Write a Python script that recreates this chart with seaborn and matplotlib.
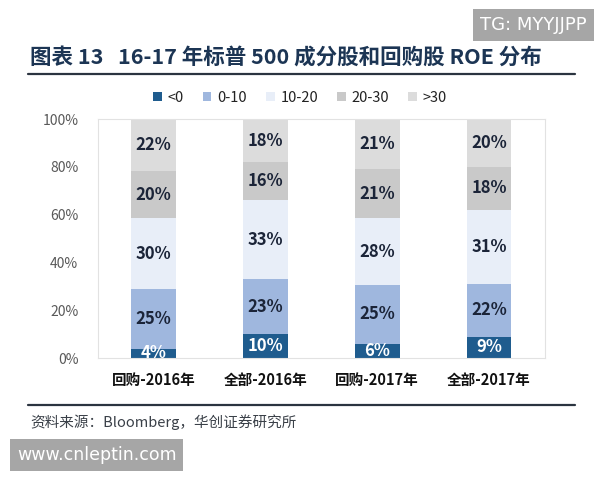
import numpy as np
import pandas as pd
import seaborn as sns
import matplotlib.pyplot as plt
from matplotlib.patches import Patch

# 数据
categories = ['回购-2016年', '全部-2016年', '回购-2017年', '全部-2017年']
groups = ['<0', '0-10', '10-20', '20-30', '>30']
v_lt0 = [4, 10, 6, 9]
v_0_10 = [25, 23, 25, 22]
v_10_20 = [30, 33, 28, 31]
v_20_30 = [20, 16, 21, 18]
v_gt30 = [22, 18, 21, 20]
colors = ['#1f5c8e', '#9fb7de', '#e8eef8', '#c9c9c9', '#dcdcdc']
label_colors = ['white', '#1b2438', '#1b2438', '#1b2438', '#1b2438']

sns.set_theme(style='white')
plt.rcParams['font.family'] = ['Noto Sans CJK SC', 'DejaVu Sans']

vals = np.array([v_lt0, v_0_10, v_10_20, v_20_30, v_gt30], dtype=float)
share = vals / vals.sum(axis=0) * 100
cum = share.cumsum(axis=0)

fig = plt.figure(figsize=(6, 4.8), dpi=100)
ax = fig.add_axes([0.163, 0.254, 0.745, 0.498])

# 堆叠柱：从最高的累计值往下画
for i in range(len(groups) - 1, -1, -1):
    df = pd.DataFrame({'cat': categories, 'val': cum[i]})
    sns.barplot(data=df, x='cat', y='val', color=colors[i], width=0.4,
                saturation=1, ax=ax, linewidth=0)

# 数值标签
for i in range(len(groups)):
    for j in range(len(categories)):
        mid = cum[i, j] - share[i, j] / 2
        ax.text(j, mid, f'{int(vals[i, j])}%', ha='center', va='center',
                fontsize=12, fontweight='bold', color=label_colors[i])

ax.set_ylim(0, 100)
ax.set_xlim(-0.5, 3.5)
ax.set_yticks(np.arange(0, 101, 20))
ax.set_yticklabels([f'{t}%' for t in range(0, 101, 20)], fontsize=10, color='#595959')
ax.set_xticks(range(len(categories)))
ax.set_xticklabels(categories, fontsize=10.5, fontweight='bold', color='#111111')
ax.set_xlabel('')
ax.set_ylabel('')
ax.tick_params(axis='y', length=0, pad=14)
ax.tick_params(axis='x', length=0, pad=10)
for s in ax.spines.values():
    s.set_color('#e2e2e2')
    s.set_linewidth(0.8)

# 图例
handles = [Patch(facecolor=c, edgecolor='none') for c in colors]
leg = fig.legend(handles, groups, loc='center', bbox_to_anchor=(0.5, 0.796), ncol=5,
                 frameon=False, fontsize=10.5, handlelength=0.6, handleheight=0.6,
                 columnspacing=1.3, handletextpad=0.4)
for t in leg.get_texts():
    t.set_color('#222222')

# 标题与分隔线
fig.text(0.05, 0.88, '图表 13   16-17 年标普 500 成分股和回购股 ROE 分布',
         fontsize=15.5, fontweight='bold', color='#1c3554', va='center')
fig.add_artist(plt.Line2D([0.047, 0.958], [0.845, 0.845], color='#2b3440', lw=1.6))
fig.add_artist(plt.Line2D([0.047, 0.958], [0.156, 0.156], color='#2b3440', lw=1.6))
fig.text(0.05, 0.12, '资料来源：Bloomberg，华创证券研究所', fontsize=10.5,
         style='italic', color='#3a4048', va='center')

# 水印
fig.text(0.978, 0.948, 'TG: MYYJJPP', fontsize=13, color='white', ha='right', va='center',
         family=['DejaVu Sans'],
         bbox=dict(facecolor='#a6a6a6', edgecolor='none', pad=5))
fig.text(0.028, 0.053, 'www.cnleptin.com', fontsize=12.5, color='white', ha='left', va='center',
         family=['DejaVu Sans'],
         bbox=dict(facecolor='#a6a6a6', edgecolor='none', pad=5))

fig.savefig('out.png', dpi=100)
